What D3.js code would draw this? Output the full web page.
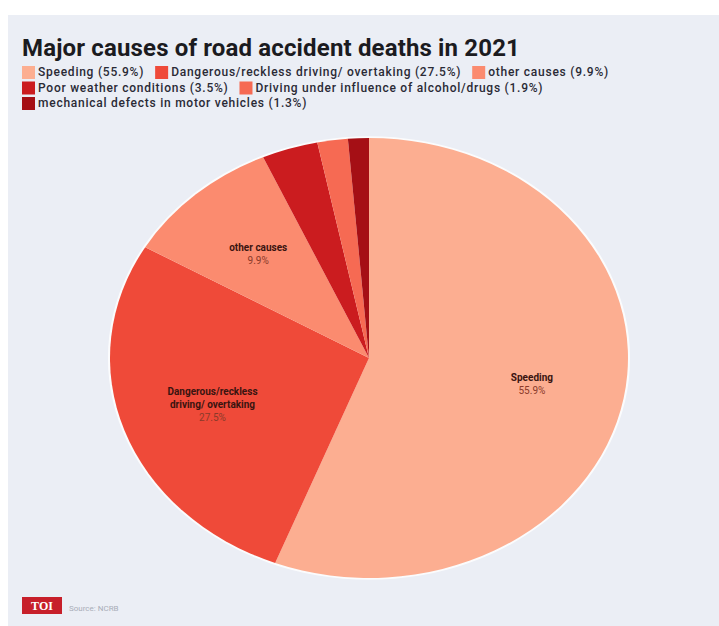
<!DOCTYPE html>
<html><head><meta charset="utf-8">
<script src="https://cdn.jsdelivr.net/npm/d3@7"></script>
<style>
html,body{margin:0;padding:0;background:#fff;}
svg{display:block;}
</style></head>
<body>
<script>
const categories = ["Speeding","Dangerous/reckless driving/ overtaking","other causes","Poor weather conditions","Driving under influence of alcohol/drugs","mechanical defects in motor vehicles"];
const values = [55.9, 27.5, 9.9, 3.5, 1.9, 1.3];
const colors = ["#fcae91","#ef4a39","#fb8b6f","#cb1c1f","#f66a53","#a50f15"];
const sliceLabels = [["Speeding"],["Dangerous/reckless","driving/ overtaking"],["other causes"],null,null,null];
const legendRows = [[0,1,2],[3,4],[5]];
const title = "Major causes of road accident deaths in 2021";
const source = "Source: NCRB";

const W = 719, H = 626;
const svg = d3.select("body").append("svg").attr("width", W).attr("height", H);
svg.append("rect").attr("width", W).attr("height", H).attr("fill", "#ffffff");
svg.append("rect").attr("x", 8).attr("y", 15).attr("width", W - 8).attr("height", H - 15).attr("fill", "#ebeef5");

svg.append("text").attr("x", 22).attr("y", 56)
  .attr("font-family", "Roboto, 'Liberation Sans', sans-serif")
  .attr("font-weight", 700).attr("font-size", 24).attr("letter-spacing", 0.15).attr("fill", "#1b1b1f")
  .text(title);

// legend
const lg = svg.append("g");
const fmt = v => `${categories[v]} (${values[v]}%)`;
legendRows.forEach((row, ri) => {
  let x = 22;
  const y = 66 + ri * 15.5;
  row.forEach(i => {
    lg.append("rect").attr("x", x).attr("y", y).attr("width", 13).attr("height", 13).attr("fill", colors[i]);
    const t = lg.append("text").attr("x", x + 16).attr("y", y + 10)
      .attr("font-family", "Roboto, 'Liberation Sans', sans-serif")
      .attr("font-weight", 500).attr("font-size", 12).attr("letter-spacing", 0.75).attr("fill", "#2a2a35")
      .text(fmt(i));
    x += 16 + t.node().getComputedTextLength() + 11;
  });
});

// pie
const cx = 369, cy = 358, rx = 259, ry = 220, R = 100;
const pie = d3.pie().sort(null).value(d => d)(values);
const arc = d3.arc().innerRadius(0).outerRadius(R);
const g = svg.append("g").attr("transform", `translate(${cx},${cy}) scale(${rx / R},${ry / R})`);
g.append("ellipse").attr("rx", R + 0.8).attr("ry", R + 0.8).attr("fill", "#ffffff").attr("opacity", 0.8);
g.selectAll("path").data(pie).join("path")
  .attr("d", arc).attr("fill", (d, i) => colors[i]);

const labelArc = d3.arc().innerRadius(R * 0.64).outerRadius(R * 0.64);
pie.forEach((d, i) => {
  if (!sliceLabels[i]) return;
  const [px, py] = labelArc.centroid(d);
  const lx = cx + px * rx / R, ly = cy + py * ry / R;
  const lines = sliceLabels[i];
  const total = lines.length + 1;
  const y0 = ly - (total - 1) * 13 / 2 + 4;
  const t = svg.append("text").attr("text-anchor", "middle")
    .attr("font-family", "Roboto, 'Liberation Sans', sans-serif").attr("font-size", 10);
  lines.forEach((ln, k) => {
    t.append("tspan").attr("x", lx).attr("y", y0 + k * 13).attr("font-weight", 700).attr("fill", "#3a1410").text(ln);
  });
  t.append("tspan").attr("x", lx).attr("y", y0 + lines.length * 13).attr("font-weight", 400)
    .attr("fill", "#8a3a2a").text(values[i] + "%");
});

// footer
svg.append("rect").attr("x", 22).attr("y", 597).attr("width", 40).attr("height", 17).attr("fill", "#c71f2a");
svg.append("text").attr("x", 42).attr("y", 610).attr("text-anchor", "middle")
  .attr("font-family", "'Liberation Serif', serif").attr("font-weight", 700).attr("font-size", 12)
  .attr("fill", "#ffffff").text("TOI");
svg.append("text").attr("x", 69).attr("y", 611)
  .attr("font-family", "Roboto, 'Liberation Sans', sans-serif").attr("font-size", 8)
  .attr("fill", "#a9adb8").text(source);
</script>
</body></html>
